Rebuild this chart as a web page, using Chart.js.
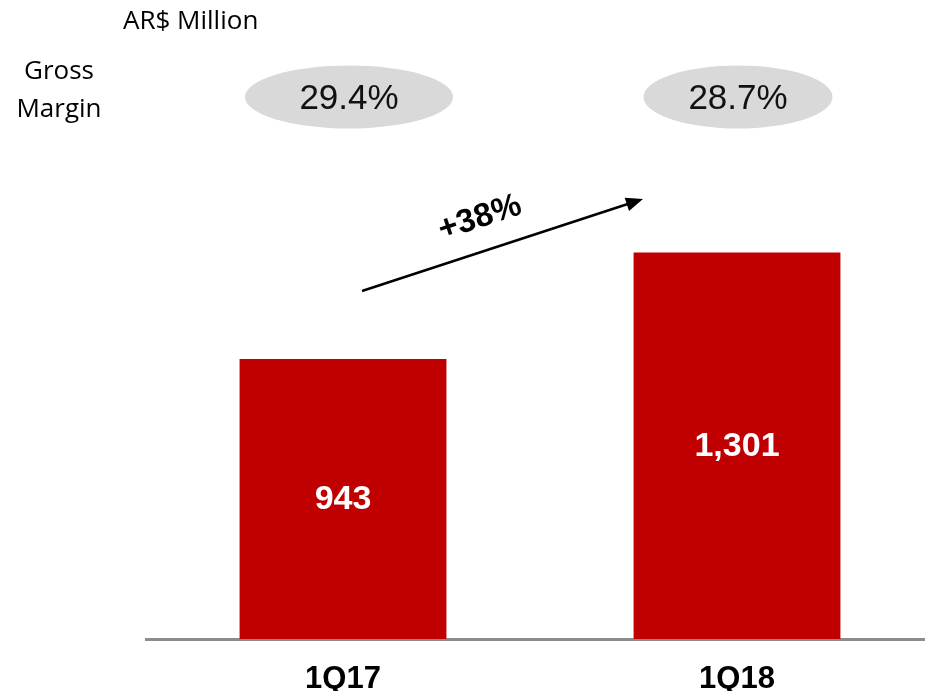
<!DOCTYPE html>
<html>
<head>
<meta charset="utf-8">
<title>Gross Profit - AR$ Million</title>
<script src="https://cdn.jsdelivr.net/npm/chart.js@4/dist/chart.umd.min.js"></script>
<style>
    html, body { margin: 0; padding: 0; background: #fff; overflow: hidden; }
    #wrap { position: absolute; left: 0; top: 0; width: 934px; height: 691px; }
</style>
</head>
<body>
<div id="wrap"><canvas id="grossChart"></canvas></div>
<script>
const quarters = ['1Q17', '1Q18'];
const grossProfit = [943, 1301];
const grossMargin = [29.4, 28.7];
const growthPct = 38;
const unitLabel = 'AR$ Million';

const barRed = '#c00000';
const sansFont = '"Liberation Sans", Arial, sans-serif';
const titleFont = '"Open Sans", sans-serif';

function formatNumber(v) {
    return v.toLocaleString('en-US');
}

const overlayPlugin = {
    id: 'overlay',
    afterDatasetsDraw(chart) {
        const ctx = chart.ctx;
        const meta = chart.getDatasetMeta(0);
        ctx.save();
        ctx.fillStyle = '#ffffff';
        ctx.font = 'bold 34px ' + sansFont;
        ctx.textAlign = 'center';
        ctx.textBaseline = 'middle';
        meta.data.forEach((bar, i) => {
            ctx.fillText(formatNumber(grossProfit[i]), bar.x, (bar.y + bar.base) / 2 + 1);
        });
        ctx.restore();
    },
    afterDraw(chart) {
        const ctx = chart.ctx;
        const xScale = chart.scales.x;
        ctx.save();

        // header texts
        ctx.fillStyle = '#000';
        ctx.font = '26px ' + titleFont;
        ctx.textAlign = 'left';
        ctx.textBaseline = 'middle';
        ctx.fillText(unitLabel, 123, 22);
        ctx.textAlign = 'center';
        ctx.fillText('Gross', 59, 72);
        ctx.fillText('Margin', 59, 110);

        // gross margin bubbles
        const bubbleW = [208, 189];
        grossMargin.forEach((m, i) => {
            const cx = xScale.getPixelForValue(i) + (i === 0 ? 6 : 1);
            ctx.fillStyle = '#d9d9d9';
            ctx.beginPath();
            ctx.ellipse(cx, 97, bubbleW[i] / 2, 31.5, 0, 0, Math.PI * 2);
            ctx.fill();
            ctx.fillStyle = '#111';
            ctx.font = '35px ' + sansFont;
            ctx.textBaseline = 'middle';
            ctx.fillText(m.toFixed(1) + '%', cx, 99);
        });

        // growth arrow
        const x0 = 362, y0 = 291, x1 = 643, y1 = 199;
        const ang = Math.atan2(y1 - y0, x1 - x0);
        ctx.strokeStyle = '#000';
        ctx.lineWidth = 2.5;
        ctx.beginPath();
        ctx.moveTo(x0, y0);
        ctx.lineTo(x1 - 12 * Math.cos(ang), y1 - 12 * Math.sin(ang));
        ctx.stroke();
        ctx.fillStyle = '#000';
        ctx.beginPath();
        ctx.moveTo(x1, y1);
        ctx.lineTo(x1 - 17 * Math.cos(ang) + 7 * Math.sin(ang), y1 - 17 * Math.sin(ang) - 7 * Math.cos(ang));
        ctx.lineTo(x1 - 17 * Math.cos(ang) - 7 * Math.sin(ang), y1 - 17 * Math.sin(ang) + 7 * Math.cos(ang));
        ctx.closePath();
        ctx.fill();

        ctx.translate(480, 218);
        ctx.rotate(ang);
        ctx.font = 'bold 33px ' + sansFont;
        ctx.textAlign = 'center';
        ctx.textBaseline = 'middle';
        ctx.fillText('+' + growthPct + '%', 0, 0);
        ctx.restore();
    }
};

const ctx = document.getElementById('grossChart').getContext('2d');
const grossChart = new Chart(ctx, {
    type: 'bar',
    data: {
        labels: quarters,
        datasets: [{
            data: grossProfit,
            backgroundColor: barRed,
            borderWidth: 0,
            barPercentage: 0.525,
            categoryPercentage: 1
        }]
    },
    options: {
        responsive: true,
        maintainAspectRatio: false,
        animation: false,
        layout: { padding: { left: 146, right: 0, top: 45, bottom: 0 } },
        plugins: {
            legend: { display: false },
            tooltip: { enabled: false }
        },
        scales: {
            y: {
                display: false,
                min: 0,
                max: 2000
            },
            x: {
                grid: { display: false, drawTicks: false },
                border: { display: true, color: '#8c8c8c', width: 3 },
                ticks: {
                    color: '#000',
                    padding: 22,
                    font: { family: sansFont, size: 31, weight: 'bold' }
                },
                afterFit(scale) { scale.height = 52; }
            }
        }
    },
    plugins: [overlayPlugin]
});
</script>
</body>
</html>
